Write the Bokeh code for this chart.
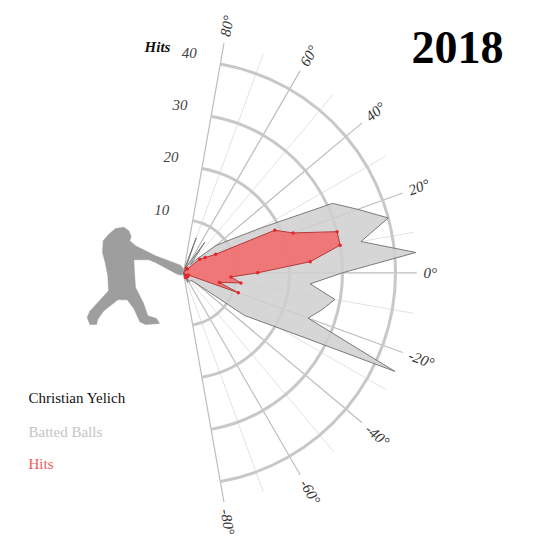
import math
from bokeh.plotting import figure
from bokeh.models import Range1d
from bokeh.core.properties import value
from bokeh.embed import file_html
from bokeh.resources import INLINE

# ---------------- data ----------------
YEAR = "2018"
PLAYER = "Christian Yelich"
RADIAL_TITLE = "Hits"
ANGLES = list(range(-90, 95, 5))   # launch-angle bins (degrees)
BATTED = [0, 0, 1, 1, 1, 2, 1, 2, 2, 2,
          3, 14, 21, 44, 25, 27, 29, 24, 30,
          44, 34, 40, 35, 31, 17, 11, 8, 4,
          2, 7, 2, 1, 7, 1, 0, 0, 0]
HITS = [0, 0, 0, 0, 0, 1, 1, 0, 1, 1,
        1, 0, 1, 1, 11, 7, 11, 9, 14,
        24, 30, 30, 22, 19, 7, 5, 4, 1,
        0, 1, 0, 0, 0, 0, 0, 0, 0]
RING_TICKS = [10, 20, 30, 40]
MAJOR_SPOKES = [-80, -60, -40, -20, 0, 20, 40, 60, 80]
MINOR_SPOKES = [-70, -50, -30, -10, 10, 30, 50, 70]
LEGEND = [("Christian Yelich", "#111111"), ("Batted Balls", "#c4c4c4"), ("Hits", "#f25a5a")]

# decorative batter silhouette outline (icon-local pixel units)
ICON = [(105, 18), (130, 14), (145, 25), (152, 42), (148, 55), (165, 70), (210, 92), (225, 100),
        (300, 128), (310, 140), (305, 158), (290, 155), (225, 120), (205, 112), (160, 112),
        (162, 150), (165, 195), (188, 240), (202, 280), (228, 288), (237, 303), (195, 306),
        (178, 298), (160, 258), (140, 232), (112, 232), (70, 265), (52, 290), (48, 306),
        (28, 306), (20, 285), (28, 266), (52, 240), (84, 205), (82, 160), (74, 120),
        (66, 90), (68, 55), (85, 35)]

# ---------------- layout ----------------
W = H = 540
PX = 5.3               # pixels per count unit
CX, CY = 183.0, 272.3  # pole position inside the figure (px from left / top)
SERIF = value("Liberation Serif")

p = figure(width=W, height=H, output_backend="svg", toolbar_location=None,
           x_axis_type=None, y_axis_type=None, min_border=0,
           x_range=Range1d(-CX / PX, (W - CX) / PX),
           y_range=Range1d(-(H - CY) / PX, CY / PX))
p.grid.visible = False
p.outline_line_color = None
p.background_fill_color = "white"
p.border_fill_color = "white"


def pol(r, a):
    t = math.radians(a)
    return r * math.cos(t), r * math.sin(t)


def scr(sx, sy):
    return (sx - CX) / PX, (CY - sy) / PX


SPOKE_R = 44
# spokes
for spokes, col, lw in ((MINOR_SPOKES, "#e2e2e2", 1), (MAJOR_SPOKES, "#bdbdbd", 1.2)):
    ends = [pol(SPOKE_R, a) for a in spokes]
    p.segment(x0=[0] * len(ends), y0=[0] * len(ends),
              x1=[e[0] for e in ends], y1=[e[1] for e in ends],
              line_color=col, line_width=lw)

# rings
p.arc(x=[0] * len(RING_TICKS), y=[0] * len(RING_TICKS), radius=RING_TICKS,
      start_angle=-80, end_angle=80, start_angle_units="deg", end_angle_units="deg",
      line_color="#c8c8c8", line_width=3)

# batted balls polygon
bx, by = zip(*[pol(r, a) for r, a in zip(BATTED, ANGLES)])
p.patch(list(bx), list(by), fill_color="#cfcfcf", fill_alpha=0.85,
        line_color="#7a7a7a", line_width=1)

# hits polygon
hx, hy = zip(*[pol(r, a) for r, a in zip(HITS, ANGLES)])
p.patch(list(hx), list(hy), fill_color="#f26d6d", fill_alpha=0.9,
        line_color="#b53a3a", line_width=1)
pts = [(x, y) for x, y, h in zip(hx, hy, HITS) if h > 0]
p.scatter([q[0] for q in pts], [q[1] for q in pts], size=3.5,
          fill_color="#e8242a", line_color=None)

# angle labels
LAB_R = 45.3
lab = [pol(LAB_R, a) for a in MAJOR_SPOKES]
p.text(x=[q[0] for q in lab], y=[q[1] for q in lab],
       text=[f"{a}°" for a in MAJOR_SPOKES], angle=MAJOR_SPOKES, angle_units="deg",
       text_font=SERIF, text_font_style="italic", text_font_size="15px",
       text_color="#333333", text_align="left", text_baseline="middle")

# radial tick labels along the 80° spoke
rt = [pol(r, 80) for r in RING_TICKS]
p.text(x=[q[0] - 31 / PX for q in rt], y=[q[1] + 11 / PX for q in rt],
       text=[str(r) for r in RING_TICKS],
       text_font=SERIF, text_font_style="italic", text_font_size="15px",
       text_color="#444444", text_align="center", text_baseline="middle")
tx, ty = scr(157, 46)
p.text(x=[tx], y=[ty], text=[RADIAL_TITLE],
       text_font=SERIF, text_font_style="bold italic", text_font_size="15px",
       text_color="#111111", text_align="center", text_baseline="middle")

# year
yx, yy0 = scr(457, 47)
p.text(x=[yx], y=[yy0], text=[YEAR],
       text_font=SERIF, text_font_style="bold", text_font_size="46px",
       text_color="#000000", text_align="center", text_baseline="alphabetic")

# legend texts
for (t, c), sy in zip(LEGEND, [397, 431, 463]):
    lx, lyy = scr(28, sy)
    p.text(x=[lx], y=[lyy], text=[t],
           text_font=SERIF, text_font_size="15px", text_color=c,
           text_align="left", text_baseline="middle")

# batter icon
icon = [scr(80 + zx / 3, 222 + zy / 3) for zx, zy in ICON]
p.patch([q[0] for q in icon], [q[1] for q in icon],
        fill_color="#9e9e9e", line_color="#9e9e9e", line_width=0.5)

open("out.html", "w").write(file_html(p, INLINE))
